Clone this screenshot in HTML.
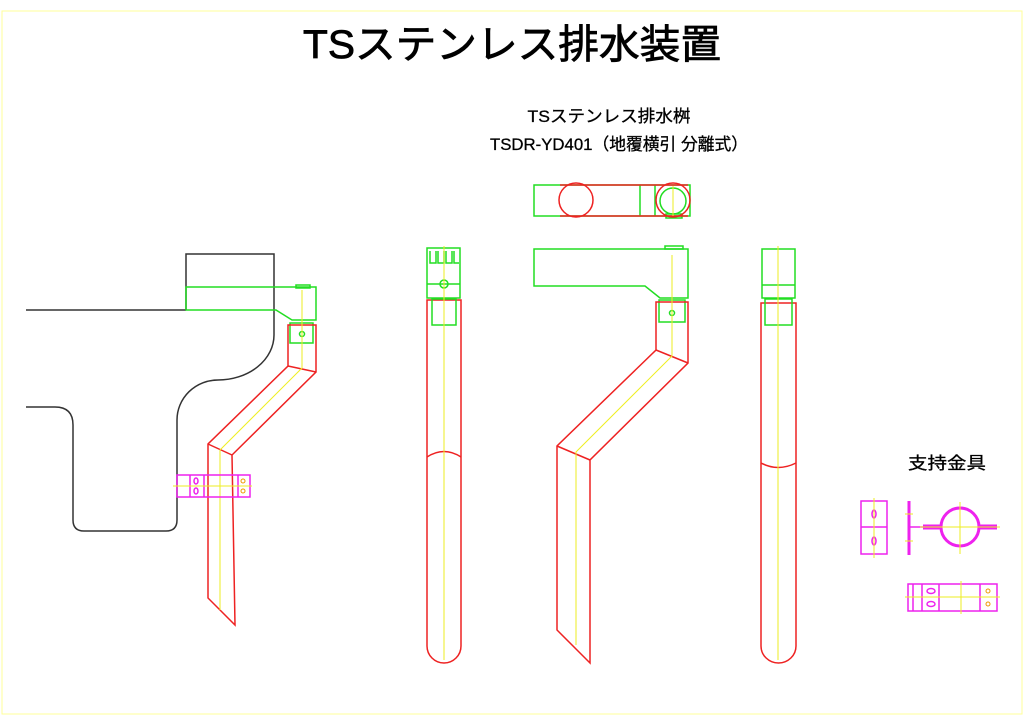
<!DOCTYPE html>
<html><head><meta charset="utf-8"><style>html,body{margin:0;padding:0;background:#fff}svg{display:block}</style></head>
<body>
<svg width="1024" height="724" viewBox="0 0 1024 724" xmlns="http://www.w3.org/2000/svg" font-family="Liberation Sans, Noto Sans CJK JP, sans-serif">
<rect x="2" y="11" width="1020" height="703" fill="none" stroke="#ffff99" stroke-width="1"/>
<text x="512" y="58" font-size="40" text-anchor="middle" textLength="418" lengthAdjust="spacingAndGlyphs" stroke="#000" stroke-width="0.8">TSステンレス排水装置</text>
<text x="609" y="122" font-size="17" text-anchor="middle" textLength="163" lengthAdjust="spacingAndGlyphs" stroke="#000" stroke-width="0.3">TSステンレス排水桝</text>
<text x="619" y="150" font-size="17" text-anchor="middle" textLength="258" lengthAdjust="spacingAndGlyphs" stroke="#000" stroke-width="0.3">TSDR-YD401（地覆横引 分離式）</text>
<text x="947" y="469" font-size="17" text-anchor="middle" textLength="78" lengthAdjust="spacingAndGlyphs" stroke="#000" stroke-width="0.3">支持金具</text>

<g fill="none" stroke-width="1.5">
<g stroke="#333">
<path d="M26 310 H186"/>
<path d="M186 310 V254 H274 V335 A56 45 0 0 1 218 380 A41 40 0 0 0 177 420 V520 Q177 531 166 531 H84 Q73 531 73 520 V425 Q73 407 55 407 H26"/>
</g>
<g stroke="#22dd22">
<path d="M186 287 H316 V320 H292 L276 310 H186 Z"/>
<rect x="290" y="323" width="23" height="20"/>
<circle cx="302" cy="334" r="2.5"/>
<rect x="296" y="285" width="14" height="3"/>
</g>
<g stroke="#ee2222">
<path d="M288 325 H316 V372 L232 455 L235 625 L208 598 V444 L288 366 Z"/>
<path d="M288 366 L316 372 M208 444 L232 455"/>
</g>
<path d="M302 290 V368 L220 450 V610" stroke="#eeee22" stroke-width="1"/>
<g stroke="#ee22ee">
<rect x="177" y="475" width="73" height="22"/>
<path d="M190 475 V497 M204 475 V497 M238 475 V497"/>
<ellipse cx="196" cy="481" rx="2" ry="3"/><ellipse cx="196" cy="491" rx="2" ry="3"/>
</g>
<path d="M173 486 H252" stroke="#eeee22" stroke-width="1"/>
<circle cx="243" cy="481" r="2" stroke="#e90" stroke-width="1"/><circle cx="243" cy="491" r="2" stroke="#e90" stroke-width="1"/>

<g stroke="#ee2222">
<path d="M427 300 H461 V646 A17 17 0 0 1 427 646 Z"/>
<path d="M427 457 Q444 446 461 457"/>
</g>
<g stroke="#22dd22">
<rect x="427" y="248" width="33" height="50"/>
<path d="M427 284 H460 M430 251 v12 h6 v-12 M438 251 v12 h6 v-12 M446 251 v12 h6 v-12 M454 251 v12 h5"/>
<rect x="432" y="299" width="24" height="26"/>
<circle cx="444" cy="284" r="4"/>
</g>
<path d="M444 246 V660" stroke="#eeee22" stroke-width="1"/>

<g stroke="#22dd22">
<rect x="534" y="185" width="156" height="31"/>
<path d="M640 185 V216 M655 185 V216"/>
<circle cx="673" cy="201" r="13"/>
<rect x="666" y="214" width="16" height="4"/>
</g>
<g stroke="#ee2222">
<path d="M560 185 H688 M560 216 H688"/>
<circle cx="576" cy="200" r="17"/>
<circle cx="673" cy="200" r="17"/>
</g>
<path d="M673 186 V216" stroke="#eeee22" stroke-width="1"/>
<g stroke="#22dd22">
<path d="M534 249 H688 V298 H660 L645 286 H534 Z"/>
<rect x="665" y="246" width="18" height="3"/>
<rect x="659" y="300" width="26" height="22"/>
<circle cx="672" cy="313" r="2.5"/>
</g>
<g stroke="#ee2222">
<path d="M656 302 H688 V363 L590 460 V663 L557 630 V446 L656 350 Z"/>
<path d="M656 350 L688 363 M557 446 L590 460"/>
</g>
<path d="M672 255 V356 L576 452 V645" stroke="#eeee22" stroke-width="1"/>

<g stroke="#ee2222">
<path d="M761 303 H796 V646 A17.5 17 0 0 1 761 646 Z"/>
<path d="M761 463 Q778 472 796 463"/>
</g>
<g stroke="#22dd22">
<rect x="762" y="249" width="33" height="49"/>
<path d="M762 285 H795"/>
<rect x="765" y="299" width="27" height="26"/>
</g>
<path d="M778 246 V660" stroke="#eeee22" stroke-width="1"/>

<g stroke="#ee22ee">
<rect x="861" y="501" width="26" height="53"/>
<path d="M861 527 H887"/>
<ellipse cx="874" cy="514" rx="2" ry="4"/><ellipse cx="874" cy="541" rx="2" ry="4"/>
<path d="M909 501 V555" stroke-width="3"/>
<path d="M909 527 H923"/>
<path d="M923 527 H942 M978 527 H997" stroke-width="5"/>
<circle cx="960" cy="527" r="19" stroke-width="3"/>
<rect x="908" y="584" width="89" height="27"/>
<path d="M913 584 V611 M922 584 V611 M939 584 V611 M980 584 V611"/>
<ellipse cx="931" cy="591" rx="4" ry="2.5"/><ellipse cx="931" cy="604" rx="4" ry="2.5"/>
</g>
<g stroke="#eeee22" stroke-width="1">
<path d="M874 498 V558 M960 502 V554 M920 527 H1000 M905 597 H1000 M961 581 V614 M905 514 H913 M905 541 H913"/>
</g>
<circle cx="988" cy="591" r="2" stroke="#e90" stroke-width="1"/><circle cx="988" cy="604" r="2" stroke="#e90" stroke-width="1"/>
</g>
</svg>
</body></html>
